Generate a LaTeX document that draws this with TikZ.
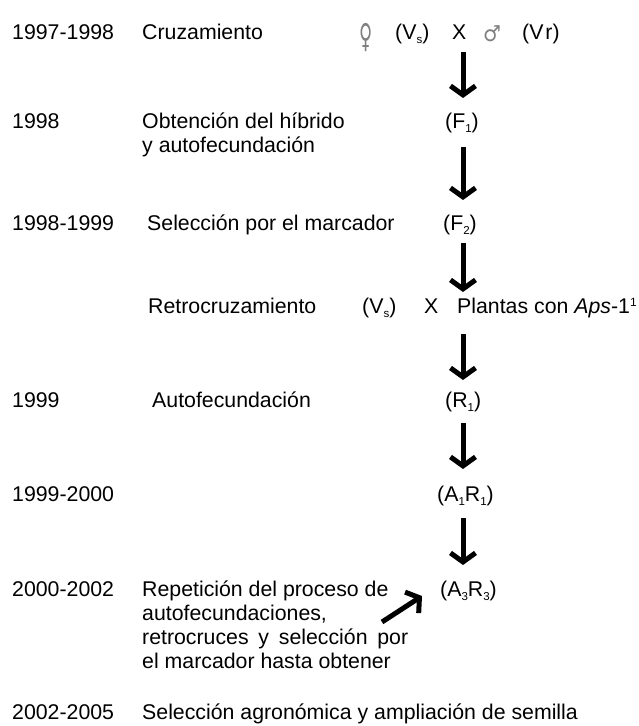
\documentclass[tikz,border=0pt]{standalone}
\usepackage{fontspec}
\setmainfont{Liberation Sans}
\newfontfamily\gsymfont{DejaVu Sans}
\usetikzlibrary{arrows.meta,calc}
\newcommand\lowidx[1]{\raisebox{-4.5pt}{\fontsize{11.5}{12}\selectfont #1}}
\newcommand\highidx[1]{\raisebox{7pt}{\fontsize{12}{12}\selectfont #1}}
\begin{document}
\begin{tikzpicture}[x=1pt,y=-1pt,
  txt/.style={anchor=base west, inner sep=0pt, font=\fontsize{21.3}{24}\selectfont},
  gsym/.style={anchor=center, inner sep=0pt, text=black!50, font=\gsymfont\fontsize{20}{20}\selectfont},
  bigarrow/.style={line width=5pt, -{Straight Barb[length=9pt,width=25pt]}}]
\useasboundingbox (0,0) rectangle (639,726);
\coordinate (ax) at (463,0);
% row 1
\node[txt] (y1) at (12,39) {1997-1998};
\node[txt] (l1) at (142,39) {Cruzamiento};
\node[gsym] (fem) at (366,37) {\scalebox{0.9}[1.65]{♀}};
\node[txt] (vs1) at (395,39) {(V\lowidx{s})};
\node[txt] (x1) at (452,39) {X};
\node[gsym] (mal) at (492,34) {\scalebox{1.0}[1.1]{♂}};
\node[txt] (vr) at (522,39) {(V\kern2pt r)};
% row 2
\node[txt] (y2) at (12,128) {1998};
\node[txt] (l2a) at (142,128) {Obtención del híbrido};
\node[txt] (l2b) at (142,152) {y autofecundación};
\node[txt] (F1) at (445,128) {(F\lowidx{1})};
% row 3
\node[txt] (y3) at (12,230) {1998-1999};
\node[txt] (l3) at (147,230) {Selección por el marcador};
\node[txt] (F2) at (443,230) {(F\lowidx{2})};
% row 4
\node[txt] (l4) at (148,313) {Retrocruzamiento};
\node[txt] (vs2) at (362,313) {(V\lowidx{s})};
\node[txt] (x2) at (424,313) {X};
\node[txt] (pl) at (457,313) {Plantas con \textit{Aps}-1\highidx{1}};
% row 5
\node[txt] (y5) at (12,407) {1999};
\node[txt] (l5) at (152,407) {Autofecundación};
\node[txt] (R1) at (445,407) {(R\lowidx{1})};
% row 6
\node[txt] (y6) at (12,501) {1999-2000};
\node[txt] (A1R1) at (437,501) {(A\lowidx{1}R\lowidx{1})};
% row 7
\node[txt] (y7) at (12,596) {2000-2002};
\node[txt] (l7a) at (142,596) {Repetición del proceso de};
\node[txt] (l7b) at (142,620) {autofecundaciones,};
\node[txt] (l7c) at (142,644) {\makebox[266pt][s]{retrocruces y selección por}};
\node[txt] (l7d) at (142,668) {el marcador hasta obtener};
\node[txt] (A3R3) at (440,596) {(A\lowidx{3}R\lowidx{3})};
% row 8
\node[txt] (y8) at (12,719) {2002-2005};
\node[txt] (l8) at (142,719) {Selección agronómica y ampliación de semilla};
% arrows
\draw[bigarrow, shorten <=13pt, shorten >=30pt] (ax |- x1.base) -- (ax |- F1.base);
\draw[bigarrow, shorten <=19pt, shorten >=30pt] (ax |- F1.base) -- (ax |- F2.base);
\draw[bigarrow, shorten <=13pt, shorten >=21pt] (ax |- F2.base) -- (ax |- pl.base);
\draw[bigarrow, shorten <=21pt, shorten >=27pt] (ax |- pl.base) -- (ax |- R1.base);
\draw[bigarrow, shorten <=16pt, shorten >=32pt] (ax |- R1.base) -- (ax |- A1R1.base);
\draw[bigarrow, shorten <=17pt, shorten >=31pt] (ax |- A1R1.base) -- (ax |- A3R3.base);
\coordinate (dtail) at (382,622);
\draw[bigarrow] (dtail) -- ([xshift=-18pt]A3R3.base west);
\end{tikzpicture}
\end{document}
